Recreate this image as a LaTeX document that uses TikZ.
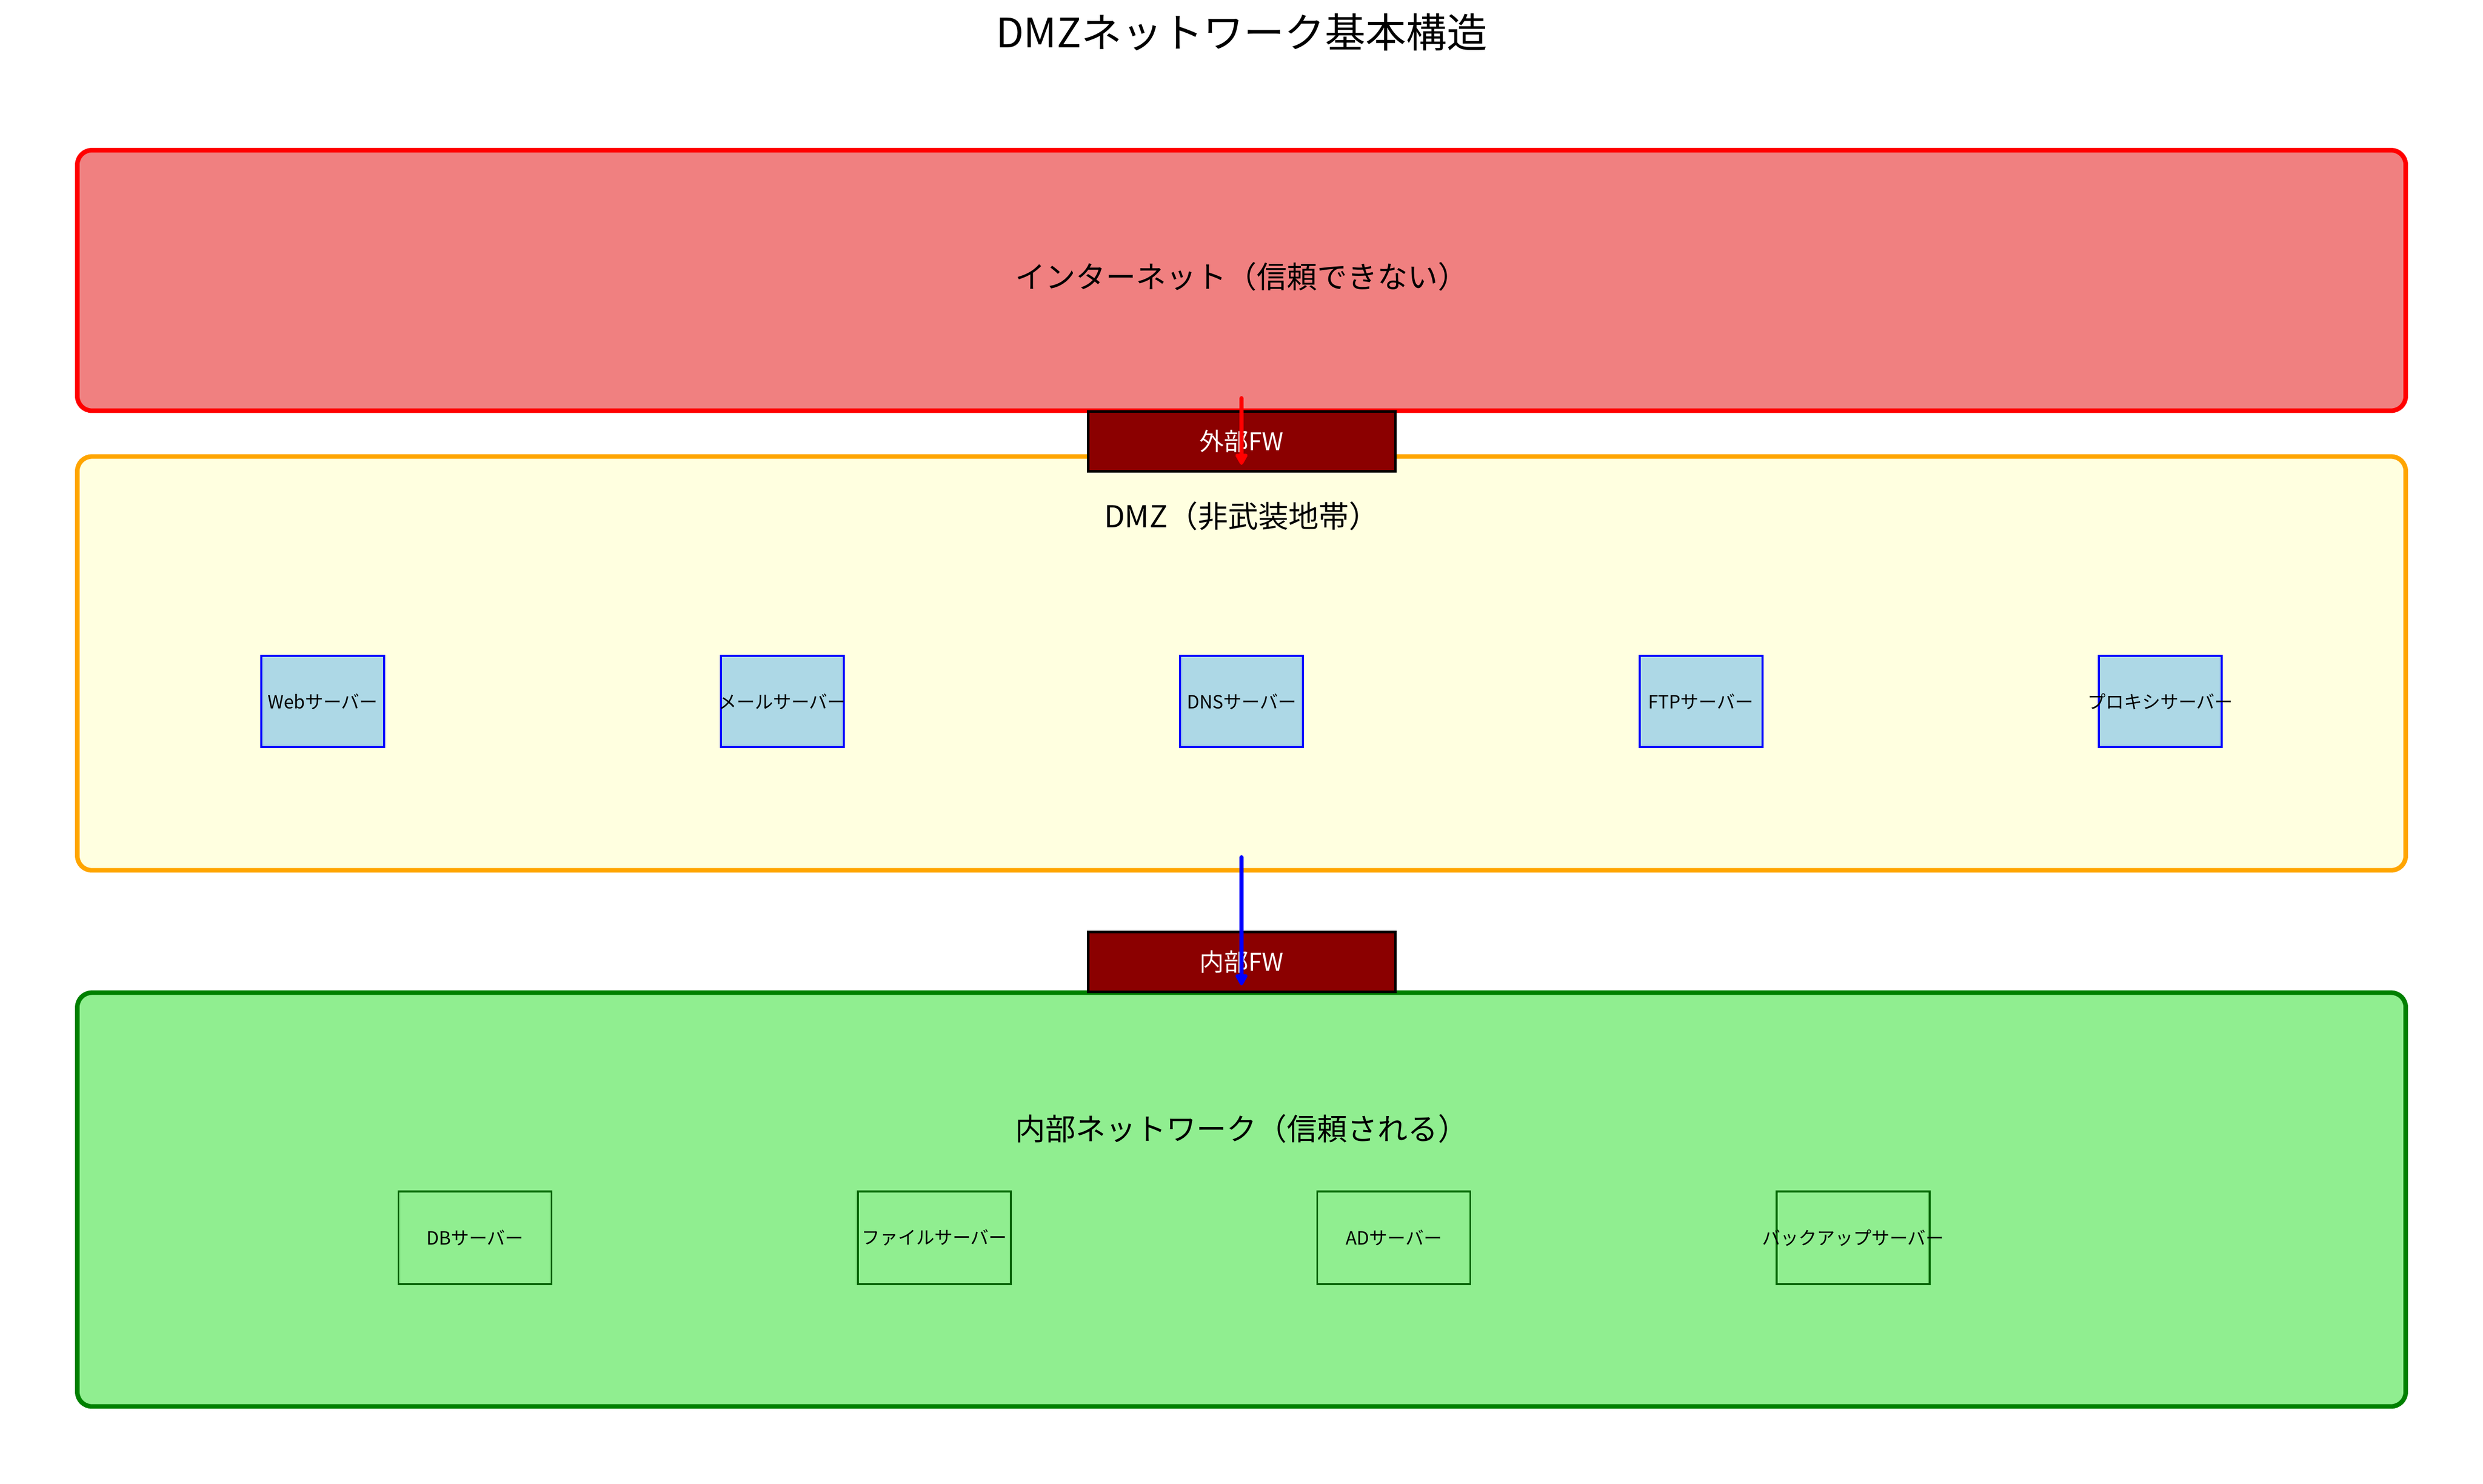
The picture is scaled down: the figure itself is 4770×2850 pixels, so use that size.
\documentclass[tikz,border=0pt]{standalone}
\usepackage{fontspec}
\setmainfont{Noto Sans CJK JP}
\usetikzlibrary{arrows.meta}
\definecolor{zoneRedFill}{HTML}{F08080}
\definecolor{zoneRedLine}{HTML}{FF0000}
\definecolor{zoneYelFill}{HTML}{FFFFE0}
\definecolor{zoneYelLine}{HTML}{FFA500}
\definecolor{zoneGrnFill}{HTML}{90EE90}
\definecolor{zoneGrnLine}{HTML}{008000}
\definecolor{srvBlueFill}{HTML}{ADD8E6}
\definecolor{srvBlueLine}{HTML}{0000FF}
\definecolor{srvGrnLine}{HTML}{006400}
\definecolor{fwFill}{HTML}{8B0000}
\newcommand{\fixw}[1]{\makebox[0pt][c]{#1}}
\tikzset{
  zonebox/.style={line width=2.2pt, rounded corners=7pt},
  fwbox/.style={draw=black, fill=fwFill, line width=1.25pt, minimum width=147.5pt, minimum height=28.75pt, inner sep=0pt, text=white, font=\fontsize{11.75}{12}\selectfont},
  dmzsrv/.style={draw=srvBlueLine, fill=srvBlueFill, line width=1pt, minimum width=59pt, minimum height=43.75pt, inner sep=0pt, font=\fontsize{8.75}{9}\selectfont},
  insrv/.style={draw=srvGrnLine, fill=zoneGrnFill, line width=0.9pt, minimum width=73.5pt, minimum height=44.5pt, inner sep=0pt, font=\fontsize{8.75}{9}\selectfont},
  zonelabel/.style={inner sep=0pt, font=\fontsize{14.5}{15}\selectfont},
  flowarrow/.style={line width=2pt, line cap=round, -{Triangle[length=6.25pt,width=6.5pt,round]}}
}
\begin{document}
\begin{tikzpicture}[x=0.25pt,y=-0.25pt]
\useasboundingbox[fill=white] (0,0) rectangle (4770,2850);
% title
\node[inner sep=0pt, font=\fontsize{19.5}{20}\selectfont] (title) at (2385,62) {DMZネットワーク基本構造};
% zones
\draw[zonebox, draw=zoneRedLine, fill=zoneRedFill] (148.5,288.5) rectangle (4621.5,789);
\node[zonelabel] (inetlabel) at (2385,531) {インターネット（信頼できない）};
\draw[zonebox, draw=zoneYelLine, fill=zoneYelFill] (148.5,877) rectangle (4621.5,1672);
\node[zonelabel] (dmzlabel) at (2385,991) {DMZ（非武装地帯）};
\draw[zonebox, draw=zoneGrnLine, fill=zoneGrnFill] (148.5,1907) rectangle (4621.5,2702);
\node[zonelabel] (inlabel) at (2385,2168) {内部ネットワーク（信頼される）};
% firewalls
\node[fwbox] (extfw) at (2385,848) {外部FW};
\node[fwbox] (intfw) at (2385,1848) {内部FW};
% DMZ servers
\node[dmzsrv] (web) at (620,1347.5) {\fixw{Webサーバー}};
\node[dmzsrv] (mail) at (1502.5,1347.5) {\fixw{メールサーバー}};
\node[dmzsrv] (dns) at (2385,1347.5) {\fixw{DNSサーバー}};
\node[dmzsrv] (ftp) at (3267.5,1347.5) {\fixw{FTPサーバー}};
\node[dmzsrv] (proxy) at (4150,1347.5) {\fixw{プロキシサーバー}};
% internal servers
\node[insrv] (db) at (912.5,2378) {\fixw{DBサーバー}};
\node[insrv] (file) at (1795,2378) {\fixw{ファイルサーバー}};
\node[insrv] (ad) at (2677.5,2378) {\fixw{ADサーバー}};
\node[insrv] (backup) at (3560,2378) {\fixw{バックアップサーバー}};
% arrows
\coordinate (a1s) at (2385,765);
\coordinate (a1e) at (2385,893);
\coordinate (a2s) at (2385,1647);
\coordinate (a2e) at (2385,1893);
\draw[flowarrow, draw=zoneRedLine, fill=zoneRedLine] (a1s) -- (a1e);
\draw[flowarrow, draw=srvBlueLine, fill=srvBlueLine] (a2s) -- (a2e);
\end{tikzpicture}
\end{document}
